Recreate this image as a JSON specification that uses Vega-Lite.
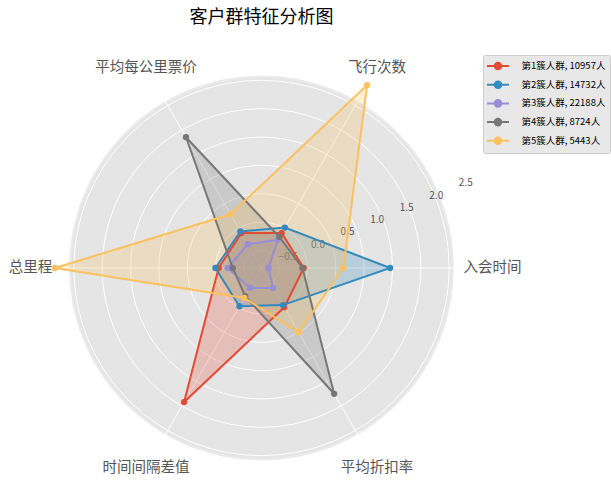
{
  "$schema": "https://vega.github.io/schema/vega-lite/v6.json",
  "width": 611,
  "height": 496,
  "autosize": "none",
  "padding": 0,
  "background": "white",
  "title": {
    "text": "客户群特征分析图",
    "font": "Noto Sans CJK SC",
    "fontSize": 18,
    "fontWeight": "normal",
    "color": "black",
    "anchor": "middle",
    "frame": "group",
    "baseline": "middle",
    "dx": -44,
    "offset": -36
  },
  "datasets": {
    "clusters": [
      {"cluster": "第1簇人群, 10957人", "dim": "入会时间", "i": 0, "value": -0.15},
      {"cluster": "第1簇人群, 10957人", "dim": "飞行次数", "i": 1, "value": -0.18},
      {"cluster": "第1簇人群, 10957人", "dim": "平均每公里票价", "i": 2, "value": -0.18},
      {"cluster": "第1簇人群, 10957人", "dim": "总里程", "i": 3, "value": -0.14},
      {"cluster": "第1簇人群, 10957人", "dim": "时间间隔差值", "i": 4, "value": 1.61},
      {"cluster": "第1簇人群, 10957人", "dim": "平均折扣率", "i": 5, "value": -0.1},
      {"cluster": "第2簇人群, 14732人", "dim": "入会时间", "i": 0, "value": 1.2},
      {"cluster": "第2簇人群, 14732人", "dim": "飞行次数", "i": 1, "value": -0.08},
      {"cluster": "第2簇人群, 14732人", "dim": "平均每公里票价", "i": 2, "value": -0.15},
      {"cluster": "第2簇人群, 14732人", "dim": "总里程", "i": 3, "value": -0.09},
      {"cluster": "第2簇人群, 14732人", "dim": "时间间隔差值", "i": 4, "value": -0.12},
      {"cluster": "第2簇人群, 14732人", "dim": "平均折扣率", "i": 5, "value": -0.14},
      {"cluster": "第3簇人群, 22188人", "dim": "入会时间", "i": 0, "value": -0.7},
      {"cluster": "第3簇人群, 22188人", "dim": "飞行次数", "i": 1, "value": -0.3},
      {"cluster": "第3簇人群, 22188人", "dim": "平均每公里票价", "i": 2, "value": -0.38},
      {"cluster": "第3簇人群, 22188人", "dim": "总里程", "i": 3, "value": -0.28},
      {"cluster": "第3簇人群, 22188人", "dim": "时间间隔差值", "i": 4, "value": -0.45},
      {"cluster": "第3簇人群, 22188人", "dim": "平均折扣率", "i": 5, "value": -0.45},
      {"cluster": "第4簇人群, 8724人", "dim": "入会时间", "i": 0, "value": -0.17},
      {"cluster": "第4簇人群, 8724人", "dim": "飞行次数", "i": 1, "value": -0.25},
      {"cluster": "第4簇人群, 8724人", "dim": "平均每公里票价", "i": 2, "value": 1.55},
      {"cluster": "第4簇人群, 8724人", "dim": "总里程", "i": 3, "value": -0.36},
      {"cluster": "第4簇人群, 8724人", "dim": "时间间隔差值", "i": 4, "value": -0.3},
      {"cluster": "第4簇人群, 8724人", "dim": "平均折扣率", "i": 5, "value": 1.46},
      {"cluster": "第5簇人群, 5443人", "dim": "入会时间", "i": 0, "value": 0.47},
      {"cluster": "第5簇人群, 5443人", "dim": "飞行次数", "i": 1, "value": 2.49},
      {"cluster": "第5簇人群, 5443人", "dim": "平均每公里票价", "i": 2, "value": 0.16},
      {"cluster": "第5簇人群, 5443人", "dim": "总里程", "i": 3, "value": 2.42},
      {"cluster": "第5簇人群, 5443人", "dim": "时间间隔差值", "i": 4, "value": -0.27},
      {"cluster": "第5簇人群, 5443人", "dim": "平均折扣率", "i": 5, "value": 0.35}
    ],
    "dims": [
      {"dim": "入会时间", "i": 0},
      {"dim": "飞行次数", "i": 1},
      {"dim": "平均每公里票价", "i": 2},
      {"dim": "总里程", "i": 3},
      {"dim": "时间间隔差值", "i": 4},
      {"dim": "平均折扣率", "i": 5}
    ],
    "grid": [
      {"v": -0.5, "label": "−0.5"},
      {"v": 0, "label": "0.0"},
      {"v": 0.5, "label": "0.5"},
      {"v": 1, "label": "1.0"},
      {"v": 1.5, "label": "1.5"},
      {"v": 2, "label": "2.0"},
      {"v": 2.5, "label": "2.5"}
    ]
  },
  "layer": [
    {
      "data": {"values": [{"part": "disk"}]},
      "mark": {"type": "point", "shape": "circle", "filled": true, "size": 146574, "fill": "#E5E5E5", "fillOpacity": 1, "stroke": "#EBEBEB", "strokeWidth": 2},
      "encoding": {
        "x": {"datum": 0, "type": "quantitative", "scale": {"domain": [-1.2347, 1.6501], "zero": false, "nice": false}, "axis": null},
        "y": {"datum": 0, "type": "quantitative", "scale": {"domain": [-1.0765, 1.2653], "zero": false, "nice": false}, "axis": null}
      }
    },
    {
      "data": {"name": "grid"},
      "transform": [{"calculate": "(datum.v + 0.81) / 3.31", "as": "rn"}],
      "mark": {"type": "point", "shape": "circle", "filled": false, "stroke": "white", "strokeWidth": 1, "opacity": 1},
      "encoding": {
        "x": {"datum": 0, "type": "quantitative"},
        "y": {"datum": 0, "type": "quantitative"},
        "size": {"field": "rn", "type": "quantitative", "scale": {"type": "pow", "exponent": 2, "domain": [0, 1], "range": [0, 140929]}, "legend": null}
      }
    },
    {
      "data": {"name": "dims"},
      "transform": [
        {"calculate": "datum.i * PI / 3", "as": "a"},
        {"calculate": "1.0198 * cos(datum.a)", "as": "ex"},
        {"calculate": "1.0198 * sin(datum.a)", "as": "ey"},
        {"calculate": "0", "as": "ox"}
      ],
      "mark": {"type": "rule", "color": "white", "strokeWidth": 1},
      "encoding": {
        "x": {"field": "ox", "type": "quantitative"},
        "y": {"field": "ox", "type": "quantitative"},
        "x2": {"field": "ex"},
        "y2": {"field": "ey"}
      }
    },
    {
      "data": {"name": "grid"},
      "transform": [
        {"calculate": "(datum.v + 0.81) / 3.31 + 0.044", "as": "rl"},
        {"calculate": "datum.rl * cos(PI / 8)", "as": "lx"},
        {"calculate": "datum.rl * sin(PI / 8)", "as": "ly"}
      ],
      "mark": {"type": "text", "font": "Noto Sans CJK SC", "fontSize": 10, "color": "#555555", "align": "center", "baseline": "middle"},
      "encoding": {
        "x": {"field": "lx", "type": "quantitative"},
        "y": {"field": "ly", "type": "quantitative"},
        "text": {"field": "label"}
      }
    },
    {
      "data": {"name": "dims"},
      "transform": [
        {"calculate": "datum.i * PI / 3", "as": "a"},
        {"calculate": "1.0907 * cos(datum.a)", "as": "lx"},
        {"calculate": "1.0907 * sin(datum.a)", "as": "ly"}
      ],
      "mark": {"type": "text", "font": "Noto Sans CJK SC", "fontSize": 14.5, "color": "#555555", "align": "center", "baseline": "middle"},
      "encoding": {
        "x": {"field": "lx", "type": "quantitative"},
        "y": {"field": "ly", "type": "quantitative"},
        "text": {"field": "dim"}
      }
    },
    {
      "data": {"name": "clusters"},
      "transform": [
        {"calculate": "(datum.value + 0.81) / 3.31", "as": "rn"},
        {"calculate": "datum.i * PI / 3", "as": "a"},
        {"calculate": "datum.rn * cos(datum.a)", "as": "px"},
        {"calculate": "datum.rn * sin(datum.a)", "as": "py"}
      ],
      "mark": {"type": "line", "interpolate": "linear-closed", "fillOpacity": 0.25, "strokeOpacity": 0},
      "encoding": {
        "x": {"field": "px", "type": "quantitative"},
        "y": {"field": "py", "type": "quantitative"},
        "order": {"field": "i", "type": "quantitative"},
        "detail": {"field": "cluster"},
        "fill": {"field": "cluster", "type": "nominal", "scale": {"range": ["#E24A33", "#348ABD", "#988ED5", "#777777", "#FBC15E"]}, "legend": null}
      }
    },
    {
      "data": {"name": "clusters"},
      "transform": [
        {"calculate": "(datum.value + 0.81) / 3.31", "as": "rn"},
        {"calculate": "datum.i * PI / 3", "as": "a"},
        {"calculate": "datum.rn * cos(datum.a)", "as": "px"},
        {"calculate": "datum.rn * sin(datum.a)", "as": "py"}
      ],
      "mark": {"type": "line", "interpolate": "linear-closed", "strokeWidth": 2},
      "encoding": {
        "x": {"field": "px", "type": "quantitative"},
        "y": {"field": "py", "type": "quantitative"},
        "order": {"field": "i", "type": "quantitative"},
        "color": {
          "field": "cluster",
          "type": "nominal",
          "scale": {"range": ["#E24A33", "#348ABD", "#988ED5", "#777777", "#FBC15E"]},
          "legend": {
            "orient": "none",
            "legendX": 483,
            "legendY": 55,
            "title": null,
            "padding": 4.5,
            "fillColor": "#E8E8E8",
            "strokeColor": "#CCCCCC",
            "cornerRadius": 2,
            "symbolType": "M-2,0H2M-0.6,0A0.6,0.6 0 1,0 0.6,0A0.6,0.6 0 1,0 -0.6,0",
            "symbolSize": 121,
            "symbolStrokeWidth": 2,
            "symbolOffset": 4,
            "labelOffset": 17,
            "labelFont": "Noto Sans CJK SC",
            "labelFontSize": 9.5,
            "labelColor": "black",
            "rowPadding": 3.7,
            "labelLimit": 200,
            "encode": {
              "symbols": {"update": {"fill": {"scale": "color", "field": "value"}, "fillOpacity": {"value": 1}}}
            }
          }
        }
      }
    },
    {
      "data": {"name": "clusters"},
      "transform": [
        {"calculate": "(datum.value + 0.81) / 3.31", "as": "rn"},
        {"calculate": "datum.i * PI / 3", "as": "a"},
        {"calculate": "datum.rn * cos(datum.a)", "as": "px"},
        {"calculate": "datum.rn * sin(datum.a)", "as": "py"}
      ],
      "mark": {"type": "point", "shape": "circle", "filled": true, "size": 40, "opacity": 1},
      "encoding": {
        "x": {"field": "px", "type": "quantitative"},
        "y": {"field": "py", "type": "quantitative"},
        "color": {"field": "cluster", "type": "nominal"}
      }
    }
  ],
  "config": {
    "view": {"stroke": null}
  }
}
